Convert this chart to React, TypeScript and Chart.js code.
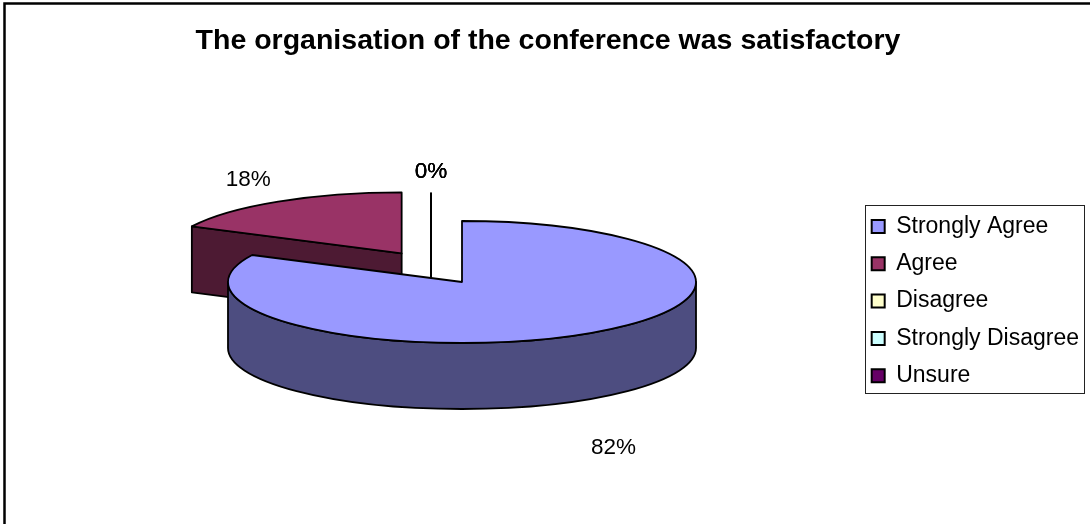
import React, { useEffect, useRef } from "react";
import { Chart, registerables } from "chart.js";

Chart.register(...registerables);

const categories = ["Strongly Agree", "Agree", "Disagree", "Strongly Disagree", "Unsure"];
const shares = [82.3, 17.7, 0, 0, 0];
const explode = [0, 120, 108, 108, 108];
const topColors = ["#9999FF", "#993366", "#FFFFCC", "#CCFFFF", "#660066"];
const wallColors = ["#4D4D80", "#4D1A33", "#808066", "#668080", "#330033"];
const drawOrder = [1, 2, 3, 4, 0];
const shifts = [[0, 0], [3, -2], [-31, 0], [-31, 0], [-31, 0]];
const labelNudges = [[28, 48], [-30, -22], [0, -21], [0, -21], [0, -21]];
const titleText = "The organisation of the conference was satisfactory";

const CX = 462;
const CY = 282;
const R = 234;
const K = 0.2607;
const DEPTH = 66;
const FONT = "'Liberation Sans', Arial, sans-serif";

const pie3d = {
  id: "pie3d",
  beforeDraw(chart: any) {
    const { ctx, width, height } = chart;
    ctx.save();
    ctx.fillStyle = "#fff";
    ctx.fillRect(0, 0, width, height);
    ctx.strokeStyle = "#000";
    ctx.lineWidth = 2.5;
    ctx.beginPath();
    ctx.moveTo(4.5, height);
    ctx.lineTo(4.5, 3.5);
    ctx.lineTo(width, 3.5);
    ctx.stroke();
    ctx.lineWidth = 1;
    ctx.strokeStyle = "#222";
    ctx.strokeRect(865.5, 205.5, 219, 188);
    ctx.restore();
  },
  beforeDatasetDraw(chart: any, args: any) {
    const { ctx } = chart;
    const meta = args.meta;
    const mids = meta.data.map((a: any) => (a.startAngle + a.endAngle) / 2);
    const apex = (i: number) => {
      const off = explode[i];
      return [
        CX + Math.cos(mids[i]) * off + shifts[i][0],
        CY + K * Math.sin(mids[i]) * off + shifts[i][1],
      ];
    };
    for (const i of drawOrder) {
      const arc = meta.data[i];
      const [ax, ay] = apex(i);
      const s = arc.startAngle;
      const e = arc.endAngle;
      ctx.save();
      ctx.lineJoin = "round";
      ctx.strokeStyle = "#000";
      if (e - s < 1e-6) {
        ctx.lineWidth = 2;
        ctx.beginPath();
        ctx.moveTo(ax, ay - R * K);
        ctx.lineTo(ax, ay + DEPTH);
        ctx.stroke();
        ctx.restore();
        continue;
      }
      ctx.lineWidth = 1.8;
      // side walls
      ctx.fillStyle = wallColors[i];
      if (e > Math.PI * 0.5 && s <= 0) {
        ctx.beginPath();
        ctx.ellipse(ax, ay, R, R * K, 0, 0, Math.PI, false);
        ctx.ellipse(ax, ay + DEPTH, R, R * K, 0, Math.PI, 0, true);
        ctx.closePath();
        ctx.fill();
        ctx.stroke();
      } else {
        const rx = ax + Math.cos(s) * R;
        const ry = ay + Math.sin(s) * R * K;
        ctx.beginPath();
        ctx.moveTo(ax, ay);
        ctx.lineTo(rx, ry);
        ctx.lineTo(rx, ry + DEPTH);
        ctx.lineTo(ax, ay + DEPTH);
        ctx.closePath();
        ctx.fill();
        ctx.stroke();
      }
      // top face: library arc, squashed
      ctx.save();
      ctx.translate(ax, ay);
      ctx.scale(1, K);
      ctx.translate(-arc.x, -arc.y);
      arc.draw(ctx, chart.chartArea);
      ctx.restore();
      // outline of top face
      ctx.beginPath();
      ctx.moveTo(ax, ay);
      ctx.ellipse(ax, ay, R, R * K, 0, s, e, false);
      ctx.closePath();
      ctx.stroke();
      ctx.restore();
    }
    // percentage labels
    ctx.save();
    ctx.fillStyle = "#000";
    ctx.font = `22.5px ${FONT}`;
    ctx.textAlign = "center";
    ctx.textBaseline = "middle";
    meta.data.forEach((arc: any, i: number) => {
      const [ax, ay] = apex(i);
      const lx = ax + Math.cos(mids[i]) * (shares[i] ? R : 0) + labelNudges[i][0];
      const baseY = shares[i]
        ? ay + Math.sin(mids[i]) * R * K + (Math.sin(mids[i]) > 0 ? DEPTH : 0)
        : ay - R * K;
      ctx.fillText(`${Math.round(shares[i])}%`, lx, baseY + labelNudges[i][1]);
    });
    ctx.restore();
    return false;
  },
};

export default function App() {
  const ref = useRef<HTMLCanvasElement>(null);
  useEffect(() => {
    document.body.style.margin = "0";
    const chart = new Chart(ref.current!, {
      type: "pie",
      data: {
        labels: categories,
        datasets: [
          {
            data: shares,
            backgroundColor: topColors,
            borderWidth: 0,
            radius: R,
          } as any,
        ],
      },
      options: {
        responsive: false,
        animation: false,
        layout: { padding: { top: 16, left: 7, right: 1, bottom: 0 } },
        plugins: {
          title: {
            display: true,
            text: titleText,
            color: "#000",
            font: { family: FONT, size: 28.5, weight: "bold" },
            padding: { top: 8, bottom: 20 },
          },
          tooltip: { enabled: false },
          legend: {
            display: true,
            position: "right",
            fullSize: false,
            labels: {
              color: "#000",
              font: { family: FONT, size: 23 },
              boxWidth: 13,
              boxHeight: 13,
              padding: 14.3,
              generateLabels: () =>
                categories.map((c, i) => ({
                  text: c,
                  fillStyle: topColors[i],
                  strokeStyle: "#000",
                  lineWidth: 2,
                  index: i,
                  fontColor: "#000",
                })),
            },
          },
        },
      },
      plugins: [pie3d],
    } as any);
    return () => chart.destroy();
  }, []);
  return (
    <canvas
      ref={ref}
      width={1090}
      height={524}
      style={{ display: "block", width: 1090, height: 524 }}
    />
  );
}
